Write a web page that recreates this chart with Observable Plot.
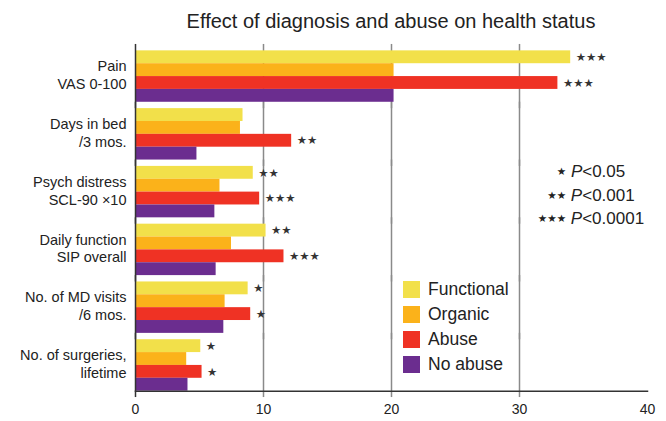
<!DOCTYPE html>
<html>
<head>
<meta charset="utf-8">
<script src="https://cdn.jsdelivr.net/npm/d3@7"></script>
<script src="https://cdn.jsdelivr.net/npm/@observablehq/plot@0.6"></script>
<style>
  body { margin: 0; background: #fff; font-family: "Liberation Sans", Arial, sans-serif; color: #222; }
  #wrap { position: relative; width: 666px; height: 421px; }
  #title { position: absolute; left: 135px; width: 512px; top: 8px; text-align: center; font-size: 20px; line-height: 26px; }
  #pleg { position: absolute; left: 521px; width: 140px; top: 160px; text-align: center; font-size: 17px; line-height: 23.5px; }
  #pleg .st { font-family: "DejaVu Sans", sans-serif; font-size: 10.5px; letter-spacing: 0px; vertical-align: 2px; }
  #leg { position: absolute; left: 403px; top: 277px; font-size: 17.5px; }
  #leg .item { display: flex; align-items: center; height: 25px; }
  #leg .sw { width: 17px; height: 17px; margin-right: 8px; }
</style>
</head>
<body>
<div id="wrap">
  <div id="chart"></div>
  <div id="title">Effect of diagnosis and abuse on health status</div>
  <div id="pleg"></div>
  <div id="leg"></div>
</div>
<script>
const metrics = ["Pain\nVAS 0-100", "Days in bed\n/3 mos.", "Psych distress\nSCL-90 ×10", "Daily function\nSIP overall", "No. of MD visits\n/6 mos.", "No. of surgeries,\nlifetime"];
const series = ["Functional", "Organic", "Abuse", "No abuse"];
const colors = ["#f2e04a", "#fbb21a", "#ef3224", "#6b2d8f"];
const functional = [34.0, 8.4, 9.2, 10.2, 8.8, 5.1];
const organic = [20.2, 8.2, 6.6, 7.5, 7.0, 4.0];
const abuse = [33.0, 12.2, 9.7, 11.6, 9.0, 5.2];
const noAbuse = [20.2, 4.8, 6.2, 6.3, 6.9, 4.1];
const starsFunctional = ["***", "", "**", "**", "*", "*"];
const starsAbuse = ["***", "**", "***", "***", "*", "*"];
const xTicks = [0, 10, 20, 30, 40];
const gridTicks = [10, 20, 30];
const pLegend = [["*", "0.05"], ["**", "0.001"], ["***", "0.0001"]];

const valuesBySeries = [functional, organic, abuse, noAbuse];
const data = [];
metrics.forEach((m, i) => series.forEach((s, j) => data.push({metric: m, series: s, value: valuesBySeries[j][i]})));
const starData = [];
metrics.forEach((m, i) => {
  if (starsFunctional[i]) starData.push({metric: m, series: "Functional", value: functional[i], text: starsFunctional[i].replace(/\*/g, "★")});
  if (starsAbuse[i]) starData.push({metric: m, series: "Abuse", value: abuse[i], text: starsAbuse[i].replace(/\*/g, "★")});
});

const pad = 0.11;
const ext = -6.4;

const chart = Plot.plot({
  width: 666,
  height: 421,
  marginTop: 44,
  marginBottom: 24,
  marginLeft: 135,
  marginRight: 19,
  style: {fontFamily: "Liberation Sans, Arial, sans-serif", fontSize: "14px", color: "#222", background: "transparent"},
  x: {domain: [0, 40], ticks: xTicks, tickSize: 0, tickPadding: 13, label: null},
  y: {domain: series, padding: 0, round: false, axis: null},
  fy: {domain: metrics, paddingInner: pad, paddingOuter: pad, round: false, axis: null, label: null},
  color: {domain: series, range: colors},
  marks: [
    Plot.ruleX(metrics.flatMap(m => gridTicks.map(t => ({metric: m, t}))), {x: "t", fy: "metric", stroke: "#8a8a8a", strokeWidth: 1.5, insetTop: ext, insetBottom: ext}),
    Plot.barX(data, {x: "value", y: "series", fy: "metric", fill: "series"}),
    Plot.text(starData, {x: "value", y: "series", fy: "metric", text: "text", dx: 5, textAnchor: "start", fontSize: 11.5, fill: "#333", fontFamily: "DejaVu Sans, sans-serif"}),
    Plot.text(metrics, {fy: d => d, text: d => d, frameAnchor: "left", dx: -9, dy: -2, textAnchor: "end", lineHeight: 1.22, fontSize: 14.5, fill: "#222"}),
    Plot.ruleX(metrics.map(m => ({metric: m, t: 0})), {x: "t", fy: "metric", stroke: "#333", strokeWidth: 1.5, insetTop: ext, insetBottom: ext}),
    Plot.frame({anchor: "bottom", stroke: "#333", strokeWidth: 1.5, facet: "super"})
  ]
});
document.getElementById("chart").appendChild(chart);

document.getElementById("pleg").innerHTML = pLegend.map(([s, v]) =>
  `<div><span class="st">${s.replace(/\*/g, "★")}</span> <i>P</i>&lt;${v}</div>`).join("");
document.getElementById("leg").innerHTML = series.map((s, j) =>
  `<div class="item"><div class="sw" style="background:${colors[j]}"></div><span>${s}</span></div>`).join("");
</script>
</body>
</html>
